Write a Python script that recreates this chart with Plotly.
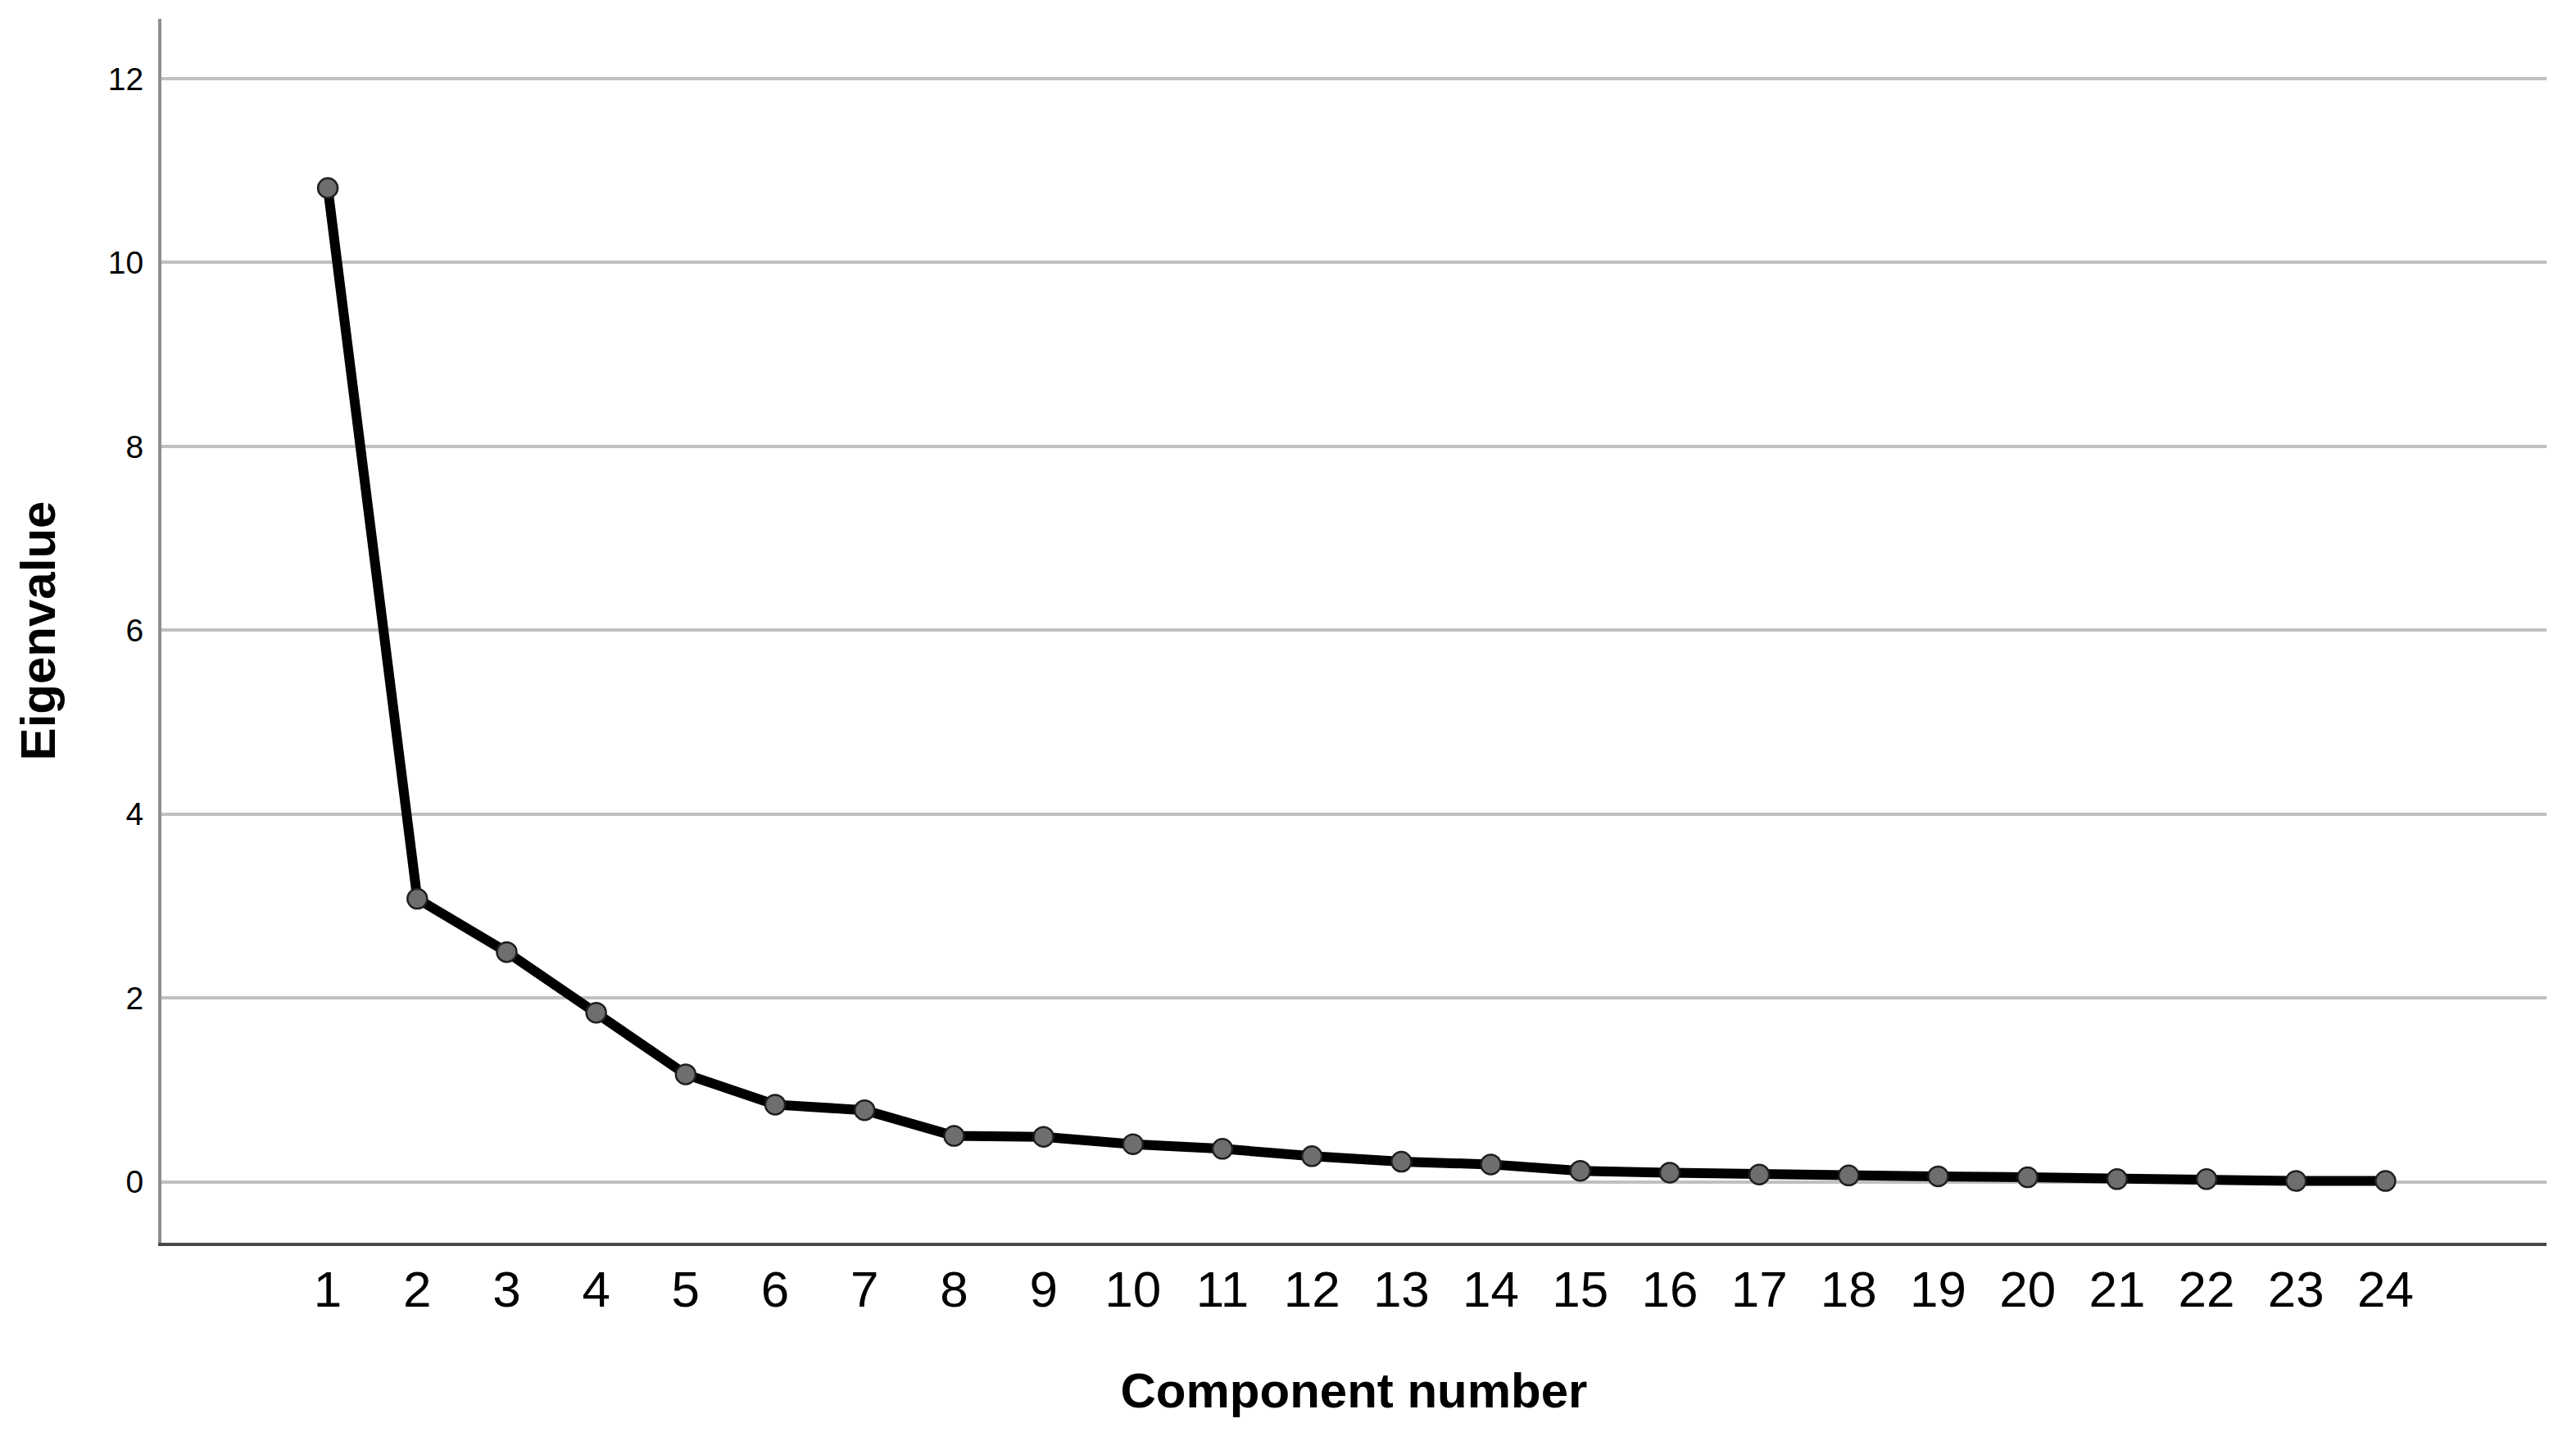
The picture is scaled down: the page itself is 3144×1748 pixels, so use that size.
import plotly.graph_objects as go

# ---- data ----
components = list(range(1, 25))
eigenvalues = [10.81, 3.08, 2.50, 1.84, 1.17, 0.84, 0.78, 0.50, 0.49, 0.41,
               0.36, 0.28, 0.22, 0.19, 0.12, 0.10, 0.08, 0.07, 0.06, 0.05,
               0.03, 0.03, 0.01, 0.01]
x_tick_labels = [str(c) for c in components]
y_tick_values = [0, 2, 4, 6, 8, 10, 12]
y_tick_labels = [str(v) for v in y_tick_values]

x_title = "Component number"
y_title = "Eigenvalue"

FONT = "Arial, 'Liberation Sans', sans-serif"

fig = go.Figure()
fig.add_trace(go.Scatter(
    x=components,
    y=eigenvalues,
    mode="lines+markers",
    line=dict(color="#000000", width=12),
    marker=dict(size=24, color="#6e6e6e", line=dict(color="#1e1e1e", width=2.5)),
    showlegend=False,
    hoverinfo="x+y",
))

# page body has an 8px margin, so the figure is 8px smaller and margins compensate
fig.update_layout(
    width=3136,
    height=1740,
    margin=dict(l=189, r=36, t=15, b=231),
    paper_bgcolor="white",
    plot_bgcolor="white",
    font=dict(family=FONT, color="#000000"),
)

fig.update_xaxes(
    range=[-0.86, 25.80],
    tickmode="array",
    tickvals=components,
    ticktext=x_tick_labels,
    tickfont=dict(size=62, family=FONT, color="#000000"),
    ticks="",
    ticklabelstandoff=0,
    showgrid=False,
    zeroline=False,
    showline=True,
    linecolor="#474747",
    linewidth=4,
    title=dict(text=x_title, font=dict(size=60, family=FONT, color="#000000", weight="bold"), standoff=70),
)

fig.update_yaxes(
    range=[-0.662, 12.65],
    tickmode="array",
    tickvals=y_tick_values,
    ticktext=y_tick_labels,
    tickfont=dict(size=39, family=FONT, color="#000000"),
    ticks="",
    ticklabelstandoff=10,
    showgrid=True,
    gridcolor="#c0c0c0",
    gridwidth=3.5,
    zeroline=False,
    showline=True,
    linecolor="#8f8f8f",
    linewidth=4,
    title=dict(text=y_title, font=dict(size=60, family=FONT, color="#000000", weight="bold"), standoff=46),
)

fig.write_html("out.html")
